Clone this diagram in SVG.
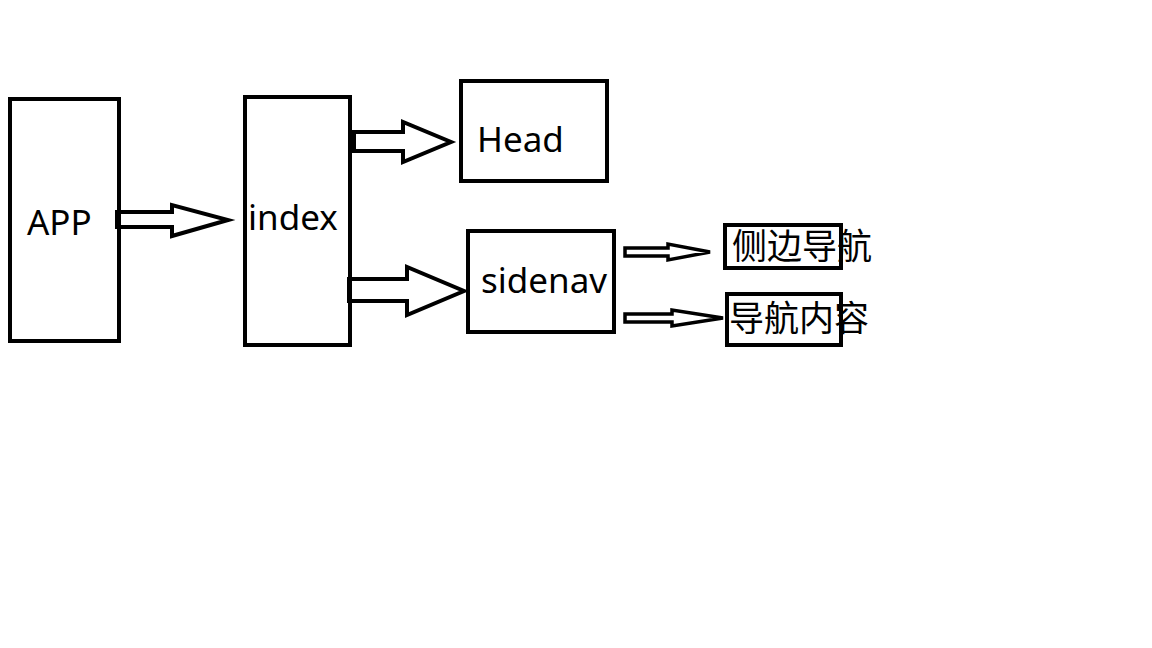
<svg xmlns="http://www.w3.org/2000/svg" width="1152" height="648" viewBox="0 0 1152 648">
<style>
.box{fill:none;stroke:#000;stroke-width:4}
.arr{fill:#fff;stroke:#000;stroke-width:4;stroke-linejoin:miter}
.arr2{fill:#fff;stroke:#000;stroke-width:3.5;stroke-linejoin:miter}
.lbl{font-family:"Noto Sans","Open Sans",sans-serif;font-size:35px;fill:#000}
.cjk{font-family:"Noto Sans CJK SC",sans-serif;font-size:35px;fill:#000}
</style>
<rect width="1152" height="648" fill="#fff"/>
<g id="connectors">
<polygon class="arr" points="117,212 172,212 172,205 228,220 172,236 172,227 117,227"/>
<polygon class="arr" points="354,132 403,132 403,122 451,142 403,162 403,151 354,151"/>
<polygon class="arr" points="349,279 407,279 407,267 464,291 407,315 407,301 349,301"/>
<polygon class="arr2" points="625,248 668,248 668,244 710,252 668,260 668,256 625,256"/>
<polygon class="arr2" points="625,314 672,314 672,310 723,318 672,326 672,322 625,322"/>
</g>
<g id="app">
<rect class="box" x="10" y="99" width="109" height="242"/>
<text class="lbl" x="27" y="235">APP</text>
</g>
<g id="index">
<rect class="box" x="245" y="97" width="105" height="248"/>
<text class="lbl" x="248" y="230">index</text>
</g>
<g id="head">
<rect class="box" x="461" y="81" width="146" height="100"/>
<text class="lbl" x="477" y="152">Head</text>
</g>
<g id="sidenav">
<rect class="box" x="468" y="231" width="146" height="101"/>
<text class="lbl" x="481" y="293">sidenav</text>
</g>
<g id="side-nav-item">
<rect class="box" x="725" y="225" width="116" height="43"/>
<text class="cjk" x="732" y="259">侧边导航</text>
</g>
<g id="nav-content">
<rect class="box" x="727" y="294" width="114" height="51"/>
<text class="cjk" x="729" y="331">导航内容</text>
</g>
</svg>
